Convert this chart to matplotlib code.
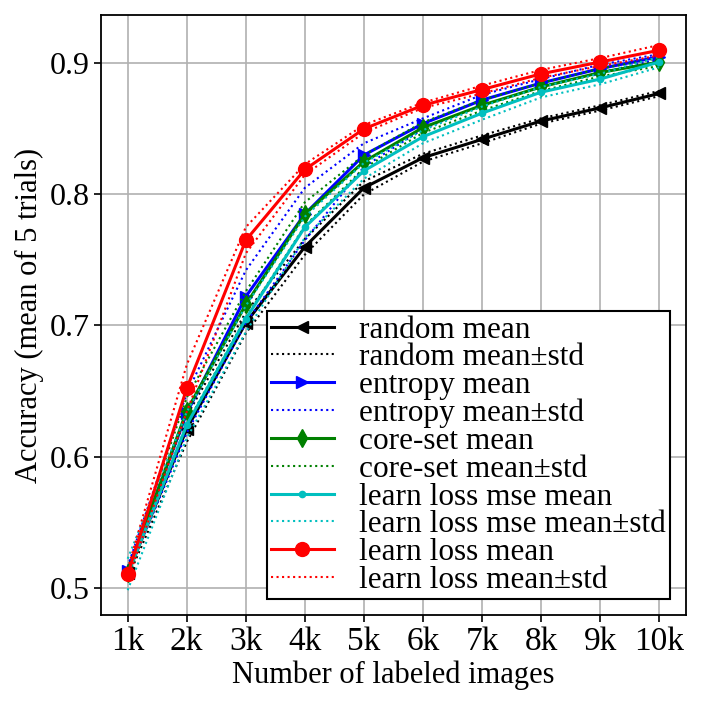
import numpy as np
import matplotlib
matplotlib.use("Agg")
import matplotlib.pyplot as plt

plt.rcParams['font.family'] = ['Liberation Serif', 'DejaVu Serif']

# number of labeled images (in thousands)
n_labeled = [1, 2, 3, 4, 5, 6, 7, 8, 9, 10]
tick_labels = ['1k', '2k', '3k', '4k', '5k', '6k', '7k', '8k', '9k', '10k']

methods = ['random', 'entropy', 'core-set', 'learn loss mse', 'learn loss']

random_mean = [0.511, 0.621, 0.702, 0.760, 0.805, 0.828, 0.842, 0.856, 0.866, 0.877]
random_std = [0.004, 0.010, 0.008, 0.006, 0.005, 0.003, 0.003, 0.002, 0.002, 0.002]

entropy_mean = [0.513, 0.633, 0.722, 0.785, 0.830, 0.854, 0.872, 0.885, 0.896, 0.905]
entropy_std = [0.003, 0.015, 0.020, 0.020, 0.009, 0.004, 0.004, 0.003, 0.003, 0.002]

coreset_mean = [0.511, 0.635, 0.716, 0.785, 0.825, 0.851, 0.868, 0.882, 0.893, 0.901]
coreset_std = [0.003, 0.010, 0.010, 0.009, 0.005, 0.004, 0.004, 0.003, 0.003, 0.003]

mse_mean = [0.510, 0.624, 0.705, 0.775, 0.818, 0.844, 0.862, 0.878, 0.888, 0.901]
mse_std = [0.012, 0.010, 0.010, 0.008, 0.006, 0.005, 0.005, 0.004, 0.004, 0.004]

learnloss_mean = [0.510, 0.652, 0.765, 0.819, 0.850, 0.868, 0.880, 0.892, 0.901, 0.910]
learnloss_std = [0.004, 0.018, 0.010, 0.004, 0.003, 0.002, 0.003, 0.003, 0.003, 0.004]

means = [random_mean, entropy_mean, coreset_mean, mse_mean, learnloss_mean]
stds = [random_std, entropy_std, coreset_std, mse_std, learnloss_std]
colors = ['k', 'b', 'g', 'c', 'r']
markers = ['<', '>', 'd', '.', 'o']
msizes = [9, 9, 9, 9, 10]

fig = plt.figure(figsize=(7.07, 7.07), dpi=100)
ax = fig.add_axes([0.143, 0.130, 0.827, 0.849])

x = np.array(n_labeled)
for name, m, s, c, mk, ms in zip(methods, means, stds, colors, markers, msizes):
    m = np.array(m)
    s = np.array(s)
    ax.plot(x, m, color=c, marker=mk, markersize=ms, linewidth=2.2, label=name + ' mean')
    ax.plot(x, m + s, color=c, linestyle=':', linewidth=1.5, label=name + ' mean\u00b1std')
    ax.plot(x, m - s, color=c, linestyle=':', linewidth=1.5)

ax.set_xticks(x)
ax.set_xticklabels(tick_labels)
ax.set_yticks([0.5, 0.6, 0.7, 0.8, 0.9])
ax.set_ylim(0.479, 0.937)
ax.tick_params(axis='x', labelsize=24, width=1.2, length=5)
ax.tick_params(axis='y', labelsize=23, width=1.2, length=5)
ax.set_xlabel('Number of labeled images', fontsize=22, labelpad=2)
ax.set_ylabel('Accuracy (mean of 5 trials)', fontsize=22)
ax.grid(True, color='#b0b0b0', linewidth=1.2)
ax.set_axisbelow(True)
for sp in ax.spines.values():
    sp.set_linewidth(1.3)

leg = ax.legend(loc='lower right', fontsize=22.5, labelspacing=-0.04, borderpad=0.15,
                handlelength=2.0, handletextpad=0.8, numpoints=1,
                fancybox=False, framealpha=1, edgecolor='k', borderaxespad=0.5)
leg.get_frame().set_linewidth(1.5)

fig.savefig('out.png', dpi=100)
